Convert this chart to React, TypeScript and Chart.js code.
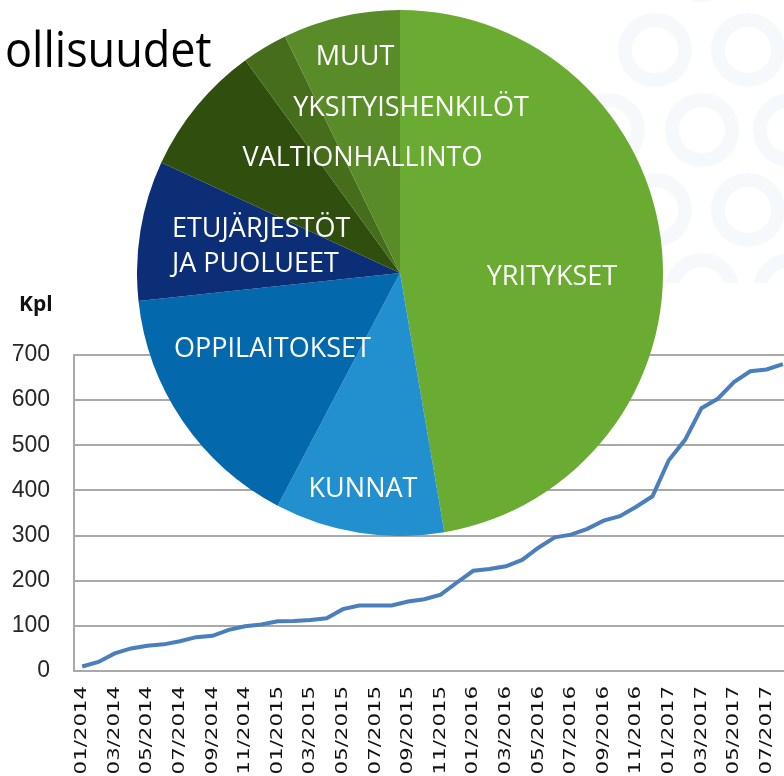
import React, { useEffect, useRef } from 'react';
import { Chart, registerables } from 'chart.js';

Chart.register(...registerables);

// ---- line chart data ----
const months = [
  '01/2014', '02/2014', '03/2014', '04/2014', '05/2014', '06/2014', '07/2014', '08/2014', '09/2014', '10/2014', '11/2014', '12/2014',
  '01/2015', '02/2015', '03/2015', '04/2015', '05/2015', '06/2015', '07/2015', '08/2015', '09/2015', '10/2015', '11/2015', '12/2015',
  '01/2016', '02/2016', '03/2016', '04/2016', '05/2016', '06/2016', '07/2016', '08/2016', '09/2016', '10/2016', '11/2016', '12/2016',
  '01/2017', '02/2017', '03/2017', '04/2017', '05/2017', '06/2017', '07/2017', '08/2017',
];
const counts = [
  10, 20, 39, 50, 56, 59, 66, 75, 78, 91, 99, 103,
  110, 111, 113, 117, 137, 145, 145, 145, 154, 159, 169, 196,
  222, 226, 232, 246, 273, 296, 302, 315, 333, 343, 364, 387,
  467, 512, 582, 603, 640, 664, 668, 680,
];
const yMin = 0;
const yMax = 700;
const yStep = 100;
const yTitle = 'Kpl';
const pageTitle = 'ollisuudet';

// ---- pie data ----
const sectors = ['YRITYKSET', 'KUNNAT', 'OPPILAITOKSET', 'ETUJÄRJESTÖT\nJA PUOLUEET', 'VALTIONHALLINTO', 'YKSITYISHENKILÖT', 'MUUT'];
const shares = [47.3, 10.4, 15.6, 8.6, 8.1, 2.8, 7.2];
const sectorColors = ['#6aab31', '#2290cf', '#0468ad', '#0b2e77', '#304f0f', '#456d1c', '#5a8b29'];

// label placement (offset from pie centre, baseline of first line, alignment)
const labelLayout = [
  { dx: 152, dy: 12, align: 'center' },
  { dx: -37, dy: 224, align: 'center' },
  { dx: -127.5, dy: 83.7, align: 'center' },
  { dx: -228, dy: -36.3, align: 'left' },
  { dx: -37.5, dy: -107, align: 'center' },
  { dx: 11, dy: -157.3, align: 'center' },
  { dx: -45, dy: -208.5, align: 'center' },
];

const rings = [
  [702, -35], [795, -35],
  [655, 50], [748, 50],
  [608, 130], [702, 130], [790, 130],
  [655, 210], [748, 210],
  [702, 290], [790, 290],
];

const GRID = '#a9a9a9';

export default function App() {
  const lineRef = useRef<HTMLCanvasElement>(null);
  const pieRef = useRef<HTMLCanvasElement>(null);

  useEffect(() => {
    const decor = {
      id: 'decor',
      beforeDraw(chart: any) {
        const ctx = chart.ctx;
        ctx.save();
        ctx.fillStyle = '#ffffff';
        ctx.fillRect(0, 0, chart.width, chart.height);
        ctx.beginPath();
        ctx.rect(0, 0, chart.width, 283);
        ctx.clip();
        ctx.strokeStyle = '#f6f9fc';
        ctx.lineWidth = 14;
        rings.forEach(([x, y]) => {
          ctx.beginPath();
          ctx.arc(x, y, 30, 0, Math.PI * 2);
          ctx.stroke();
        });
        ctx.restore();
      },
      afterDraw(chart: any) {
        const ctx = chart.ctx;
        const area = chart.chartArea;
        const xs = chart.scales.x;
        ctx.save();
        // page title
        ctx.fillStyle = '#000000';
        ctx.font = '50px "Open Sans"';
        ctx.textAlign = 'left';
        ctx.textBaseline = 'alphabetic';
        ctx.save();
        ctx.translate(5, 67);
        ctx.scale(0.9, 1);
        ctx.fillText(pageTitle, 0, 0);
        ctx.restore();
        // axis title
        ctx.fillStyle = '#111111';
        ctx.font = 'bold 21px "Open Sans"';
        ctx.fillText(yTitle, 19, 311);
        // x tick labels
        ctx.fillStyle = '#111111';
        ctx.font = '16px "DejaVu Sans"';
        ctx.textAlign = 'right';
        ctx.textBaseline = 'middle';
        months.forEach((m, i) => {
          if (i % 2 !== 0) return;
          const x = xs.getPixelForValue(i);
          ctx.save();
          ctx.translate(x, area.bottom + 15);
          ctx.rotate(-Math.PI / 2);
          ctx.scale(1.33, 1);
          ctx.fillText(m, 0, 0);
          ctx.restore();
        });
        ctx.restore();
      },
    };

    const line = new Chart(lineRef.current!, {
      type: 'line',
      data: {
        labels: months,
        datasets: [{
          data: counts,
          borderColor: '#4a7ebd',
          borderWidth: 4,
          pointRadius: 0,
          tension: 0,
          fill: false,
        }],
      },
      options: {
        responsive: false,
        animation: false,
        devicePixelRatio: 1,
        layout: { padding: { top: 355, left: 0, right: 0, bottom: 0 } },
        plugins: { legend: { display: false }, tooltip: { enabled: false } },
        scales: {
          x: {
            type: 'category',
            offset: true,
            grid: { display: false },
            border: { display: true, color: GRID, width: 2 },
            ticks: { display: false },
            afterFit(scale: any) { scale.height = 105; },
          },
          y: {
            min: yMin,
            max: yMax,
            grid: { color: GRID, lineWidth: 2, drawTicks: false },
            border: { display: true, color: GRID, width: 2 },
            ticks: {
              stepSize: yStep,
              padding: 24,
              color: '#262626',
              font: { family: '"Liberation Sans"', size: 23 },
            },
            afterFit(scale: any) { scale.width = 74; },
          },
        },
      },
      plugins: [decor],
    });

    const pieLabels = {
      id: 'pieLabels',
      afterDraw(chart: any) {
        const ctx = chart.ctx;
        const arc = chart.getDatasetMeta(0).data[0];
        const cx = arc.x;
        const cy = arc.y;
        ctx.save();
        ctx.fillStyle = '#ffffff';
        ctx.font = '27px "Open Sans"';
        ctx.textBaseline = 'alphabetic';
        sectors.forEach((s, i) => {
          const l = labelLayout[i];
          ctx.textAlign = l.align;
          s.split('\n').forEach((t, j) => {
            ctx.fillText(t, cx + l.dx, cy + l.dy + j * 35);
          });
        });
        ctx.restore();
      },
    };

    const pie = new Chart(pieRef.current!, {
      type: 'pie',
      data: {
        labels: sectors,
        datasets: [{
          data: shares,
          backgroundColor: sectorColors,
          borderWidth: 0,
        }],
      },
      options: {
        responsive: false,
        animation: false,
        devicePixelRatio: 1,
        layout: { padding: 0 },
        plugins: { legend: { display: false }, tooltip: { enabled: false } },
      },
      plugins: [pieLabels],
    });

    return () => {
      line.destroy();
      pie.destroy();
    };
  }, []);

  return (
    <div style={{ position: 'fixed', left: 0, top: 0, width: 784, height: 776, overflow: 'hidden', background: '#fff' }}>
      <canvas ref={lineRef} width={791} height={776} style={{ position: 'absolute', left: 0, top: 0 }} />
      <canvas ref={pieRef} width={526} height={526} style={{ position: 'absolute', left: 137, top: 10 }} />
    </div>
  );
}
